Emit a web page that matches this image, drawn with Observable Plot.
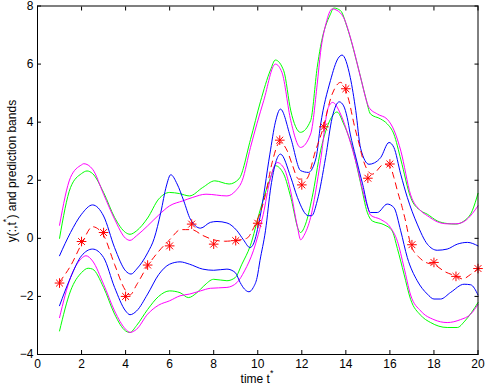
<!DOCTYPE html>
<html><head><meta charset="utf-8">
<script src="https://cdn.jsdelivr.net/npm/d3@7"></script>
<script src="https://cdn.jsdelivr.net/npm/@observablehq/plot@0.6"></script>
<style>html,body{margin:0;padding:0;background:#fff;} svg{display:block;overflow:visible;}</style>
</head><body><div id="chart"></div>
<script>
const xTicks = [0,2,4,6,8,10,12,14,16,18,20];
const yTicks = [-4,-2,0,2,4,6,8];
const obsT = [1,2,3,4,5,6,7,8,9,10,11,12,13,14,15,16,17,18,19,20];
const obsY = [-1.54,-0.11,0.20,-2.0,-0.92,-0.26,0.49,-0.20,-0.08,0.52,3.38,1.84,3.84,5.15,2.07,2.56,-0.22,-0.83,-1.31,-1.04];

const meanPts = [[1,-1.5],[1.5,-0.95],[2,-0.2],[2.5,0.4],[3,0.1],[3.5,-0.9],[4,-1.8],[4.2,-1.95],[4.5,-1.6],[5,-0.95],[5.5,-0.45],[6,-0.05],[6.5,0.3],[7,0.3],[7.5,0.1],[8,-0.05],[8.5,-0.1],[9,-0.07],[9.5,0.0],[9.82,0.37],[10.35,1.5],[10.65,2.6],[11,3.3],[11.34,3.01],[11.56,2.55],[11.86,2.04],[12.2,2.04],[12.62,3.01],[12.93,3.7],[13.38,4.97],[13.76,5.37],[14.1,4.85],[14.4,3.84],[14.6,3.26],[14.75,2.79],[15.2,2.21],[15.73,2.55],[16.03,2.44],[16.18,2.1],[16.34,1.64],[16.56,1.06],[16.71,0.6],[16.94,-0.2],[17.32,-0.65],[17.7,-0.85],[18,-0.9],[18.5,-1.15],[19,-1.3],[19.3,-1.4],[19.65,-1.25],[20,-1.05]];

const blueUpper = [[1,-0.6],[1.5,0.2],[2,0.83],[2.5,1.15],[3,0.77],[3.5,-0.32],[4,-1.12],[4.25,-1.23],[4.5,-1.06],[5,-0.5],[5.3,0.0],[5.6,0.9],[5.85,1.8],[6.05,2.19],[6.34,1.87],[6.64,1.29],[6.94,0.66],[7.4,0.35],[7.85,0.55],[8.15,0.58],[8.6,0.53],[9.06,0.26],[9.35,-0.05],[9.65,-0.32],[9.8,-0.2],[10.1,0.72],[10.55,2.9],[10.8,4.0],[11.03,4.45],[11.5,3.45],[11.95,2.33],[12.3,2.27],[12.65,2.78],[12.85,3.9],[13.3,5.43],[13.65,6.2],[13.83,6.31],[14.2,5.54],[14.45,4.4],[14.67,3.1],[15.05,2.55],[15.3,2.6],[15.58,2.78],[15.96,3.3],[16.18,3.13],[16.49,2.21],[16.79,1.41],[17.24,0.49],[17.7,-0.2],[18.15,-0.41],[18.6,-0.37],[19.06,-0.2],[19.52,-0.14],[20,-0.26]];

const blueLower = [[1,-2.32],[1.5,-1.35],[2,-0.6],[2.5,-0.37],[3,-0.66],[3.5,-1.69],[4,-2.5],[4.2,-2.63],[4.5,-2.5],[5,-1.92],[5.5,-1.25],[6,-0.89],[6.47,-0.81],[6.9,-0.89],[7.5,-1.06],[8,-1.1],[8.6,-1.06],[8.98,-1.18],[9.2,-1.52],[9.4,-1.75],[9.6,-1.84],[9.8,-1.69],[9.97,-1.35],[10.1,-0.77],[10.35,0.26],[10.6,1.8],[11.03,2.9],[11.5,2.1],[11.8,1.41],[12.3,0.78],[12.45,0.78],[12.7,1.29],[13.08,2.78],[13.38,4.16],[13.7,4.7],[13.9,4.56],[14.06,4.16],[14.2,3.59],[14.45,2.8],[14.75,1.9],[15.12,0.89],[15.43,0.89],[15.88,1.18],[16.18,1.06],[16.49,0.26],[16.79,-0.66],[17.24,-1.46],[17.7,-1.92],[18,-2.09],[18.3,-2.09],[18.76,-1.86],[19.37,-1.58],[19.67,-1.6],[20,-1.95]];

const greenUpper = [[1,0.0],[1.5,1.75],[2,2.23],[2.25,2.32],[2.5,2.23],[3,1.58],[3.5,0.72],[4,0.2],[4.2,0.14],[4.5,0.26],[5,0.7],[5.5,1.35],[6,1.58],[6.45,1.54],[6.9,1.46],[7.5,1.75],[8.05,1.98],[8.7,1.87],[9.15,2.05],[9.67,3.4],[10.12,4.7],[10.58,5.8],[10.8,6.14],[11.18,5.77],[11.5,4.39],[11.94,3.65],[12.4,4.05],[12.7,5.89],[12.85,6.6],[13.3,7.72],[13.45,7.93],[13.76,7.84],[14.06,7.26],[14.52,6.0],[14.9,4.85],[15.12,4.28],[15.58,4.11],[15.88,3.94],[16.18,3.59],[16.5,2.7],[16.94,1.41],[17.4,0.95],[17.7,0.83],[18.15,0.6],[18.6,0.51],[18.99,0.49],[19.37,0.6],[19.74,0.95],[20,1.55]];

const magentaUpper = [[1,0.45],[1.5,2.1],[2,2.53],[2.1,2.57],[2.5,2.38],[3,1.52],[3.5,0.66],[4,0.0],[4.2,-0.07],[4.5,0.09],[5,0.43],[5.5,0.8],[6,1.12],[6.6,1.29],[7.05,1.41],[7.65,1.52],[8.6,1.46],[9.0,1.64],[9.3,2.0],[9.67,3.13],[10.27,4.74],[10.8,6.0],[11.1,5.71],[11.5,4.05],[11.94,3.13],[12.4,3.59],[12.7,5.31],[12.85,6.4],[13.1,7.4],[13.38,7.9],[13.6,7.85],[13.9,7.6],[14.29,6.69],[14.67,5.54],[15.05,4.51],[15.43,4.28],[15.88,4.1],[16.2,3.7],[16.5,3.0],[16.94,1.5],[17.4,0.95],[17.7,0.78],[18.15,0.57],[18.6,0.5],[19,0.5],[19.37,0.58],[19.74,0.85],[20,1.12]];

const greenLower = [[1,-3.19],[1.5,-1.81],[2,-1.18],[2.3,-1.03],[2.5,-1.06],[3,-1.69],[3.5,-2.61],[4,-3.19],[4.2,-3.24],[4.5,-3.0],[5,-2.45],[5.5,-2.0],[6,-1.81],[6.47,-1.87],[6.85,-2.04],[7.24,-1.87],[7.55,-1.64],[8,-1.41],[8.6,-1.46],[8.98,-1.35],[9.28,-0.89],[9.66,-0.26],[10.1,0.95],[10.58,2.1],[10.8,2.5],[11.18,2.21],[11.5,1.41],[11.87,0.26],[11.94,0.2],[12.17,0.49],[12.47,1.41],[12.85,3.01],[13.3,4.1],[13.6,4.35],[13.9,3.94],[14.29,3.13],[14.67,1.9],[14.97,0.9],[15.2,0.6],[15.73,0.47],[16.1,0.26],[16.34,-0.35],[16.64,-1.23],[16.94,-2.1],[17.4,-2.65],[17.85,-2.9],[18.6,-3.07],[19.06,-3.07],[19.4,-2.85],[20,-2.21]];

const magentaLower = [[1,-2.73],[1.5,-1.35],[2,-0.69],[2.2,-0.6],[2.5,-0.78],[3,-1.58],[3.5,-2.5],[4,-3.13],[4.2,-3.24],[4.5,-3.13],[5,-2.61],[5.5,-2.3],[6,-2.15],[6.47,-1.98],[6.9,-1.92],[7.4,-1.81],[7.85,-1.72],[8.6,-1.69],[9.06,-1.52],[9.4,-1.12],[9.8,-0.43],[10.25,0.83],[10.55,1.98],[10.88,2.61],[11.2,2.4],[11.5,1.6],[11.8,0.4],[11.95,-0.05],[12.1,0.1],[12.4,0.72],[12.85,2.67],[13.2,4.5],[13.4,4.68],[13.76,4.28],[14.14,3.47],[14.52,2.44],[14.75,1.7],[15.0,1.05],[15.12,0.8],[15.58,0.65],[16.03,0.37],[16.34,-0.1],[16.64,-1.0],[16.94,-1.95],[17.4,-2.5],[18,-2.8],[18.6,-2.9],[19.2,-2.8],[19.67,-2.61],[20,-2.27]];

const curveOpts = (stroke) => ({x: d => d[0], y: d => d[1], stroke, strokeWidth: 1, curve: "monotone-x"});

const chart = Plot.plot({
  width: 486, height: 386,
  marginLeft: 37, marginRight: 8.5, marginTop: 5.5, marginBottom: 32,
  x: {domain: [0, 20]},
  y: {domain: [-4, 8]},
  style: {fontFamily: "'Liberation Sans', Arial, Helvetica, sans-serif", fontSize: "12px", background: "white", color: "black", overflow: "visible"},
  marks: [
    Plot.line(greenUpper, curveOpts("#00ff00")),
    Plot.line(greenLower, curveOpts("#00ff00")),
    Plot.line(magentaUpper, curveOpts("#ff00ff")),
    Plot.line(magentaLower, curveOpts("#ff00ff")),
    Plot.line(blueUpper, curveOpts("#0000ff")),
    Plot.line(blueLower, curveOpts("#0000ff")),
    Plot.line(meanPts, {...curveOpts("#ff0000"), strokeDasharray: "6,5"}),
    Plot.dot(obsT, {x: d => d, y: (d, i) => obsY[i], symbol: "plus", r: 3.2, stroke: "#ff0000", strokeWidth: 1}),
    Plot.dot(obsT, {x: d => d, y: (d, i) => obsY[i], symbol: "times", r: 3.2, stroke: "#ff0000", strokeWidth: 1}),
    Plot.axisX({ticks: xTicks, tickSize: 4, dy: -4, tickFormat: () => "", label: null}),
    Plot.axisX({anchor: "top", ticks: xTicks, tickSize: 4, dy: 4, tickFormat: () => "", label: null}),
    Plot.axisY({ticks: yTicks, tickSize: 4, dx: 4, tickFormat: () => "", label: null}),
    Plot.axisY({anchor: "right", ticks: yTicks, tickSize: 4, dx: -4, tickFormat: () => "", label: null}),
    Plot.axisX({ticks: xTicks, tickSize: 0, tickPadding: 5, label: null}),
    Plot.axisY({ticks: yTicks, tickSize: 0, tickPadding: 4, label: null}),
    Plot.frame({stroke: "black", strokeWidth: 1})
  ]
});
document.getElementById("chart").appendChild(chart);

const svg = d3.select(chart);
const xl = svg.append("text").attr("x", 257).attr("y", 383).attr("text-anchor", "middle")
  .attr("font-size", 12).attr("fill", "black").attr("font-family", "'Liberation Sans', Arial, sans-serif");
xl.append("tspan").text("time t");
xl.append("tspan").attr("dy", -7).attr("font-size", 9).text("*");

const yl = svg.append("text").attr("transform", "translate(16,171) rotate(-90)").attr("text-anchor", "middle")
  .attr("font-size", 12).attr("fill", "black").attr("font-family", "'Liberation Sans', Arial, sans-serif");
yl.append("tspan").text("y(:,t");
yl.append("tspan").attr("dy", -7).attr("font-size", 9).text("*");
yl.append("tspan").attr("dy", 7).text(") and prediction bands");
</script>
</body></html>
